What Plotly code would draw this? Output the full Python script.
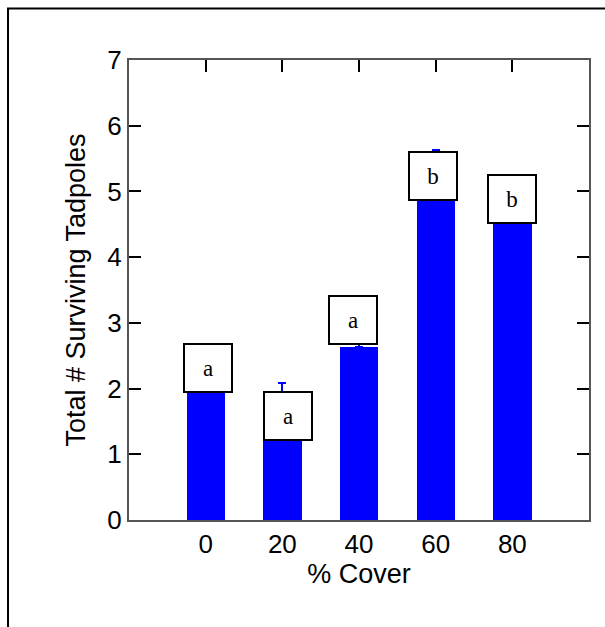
import plotly.graph_objects as go

# ---- data ----
cover = [0, 20, 40, 60, 80]
tick_labels = ["0", "20", "40", "60", "80"]
mean_survivors = [2.3, 1.63, 2.63, 5.25, 4.9]
std_error = [0.3, 0.45, 0.3, 0.38, 0.35]
letters = ["a", "a", "a", "b", "b"]
letter_y = [2.31, 1.58, 3.05, 5.23, 4.88]
letter_xshift = [2, 6, -6, -3, 0]

fig = go.Figure()
fig.add_trace(go.Bar(
    x=cover, y=mean_survivors, width=10,
    marker=dict(color="#0000FF", line=dict(width=0)),
    error_y=dict(type="data", array=std_error, symmetric=False,
                 arrayminus=[0]*len(std_error),
                 color="#0000FF", thickness=2, width=4),
    showlegend=False,
))

for xv, yv, t, dx in zip(cover, letter_y, letters, letter_xshift):
    fig.add_annotation(
        x=xv, y=yv, text=t, showarrow=False, xshift=dx,
        font=dict(family="Liberation Serif", size=23, color="black"),
        bgcolor="white", bordercolor="black", borderwidth=2, borderpad=0,
        width=46, height=46, align="center", valign="middle",
    )

# outer frame extending beyond the page
fig.add_shape(type="rect", xref="paper", yref="paper",
              x0=-0.263, x1=1.3, y0=-0.4, y1=1.112,
              line=dict(color="black", width=2), fillcolor="rgba(0,0,0,0)")

axis_common = dict(
    showline=True, linecolor="#555555", linewidth=2, mirror="allticks",
    ticks="inside", ticklen=12, tickwidth=1.5, tickcolor="black",
    showgrid=False, zeroline=False,
    tickfont=dict(family="Liberation Sans", size=26, color="black"),
    title_font=dict(family="Liberation Sans", size=27, color="black"),
)

fig.update_xaxes(
    range=[-20, 100], tickmode="array", tickvals=cover, ticktext=tick_labels,
    title_text="% Cover", title_standoff=4, layer="below traces", **axis_common)
fig.update_yaxes(
    range=[0, 7], tickmode="array", tickvals=list(range(8)),
    title_text="Total # Surviving Tadpoles", title_standoff=14, **axis_common)

fig.update_layout(
    width=605, height=627,
    margin=dict(l=129, r=16, t=60, b=107),
    paper_bgcolor="white", plot_bgcolor="white",
    bargap=0,
)

fig.write_html("out.html")
